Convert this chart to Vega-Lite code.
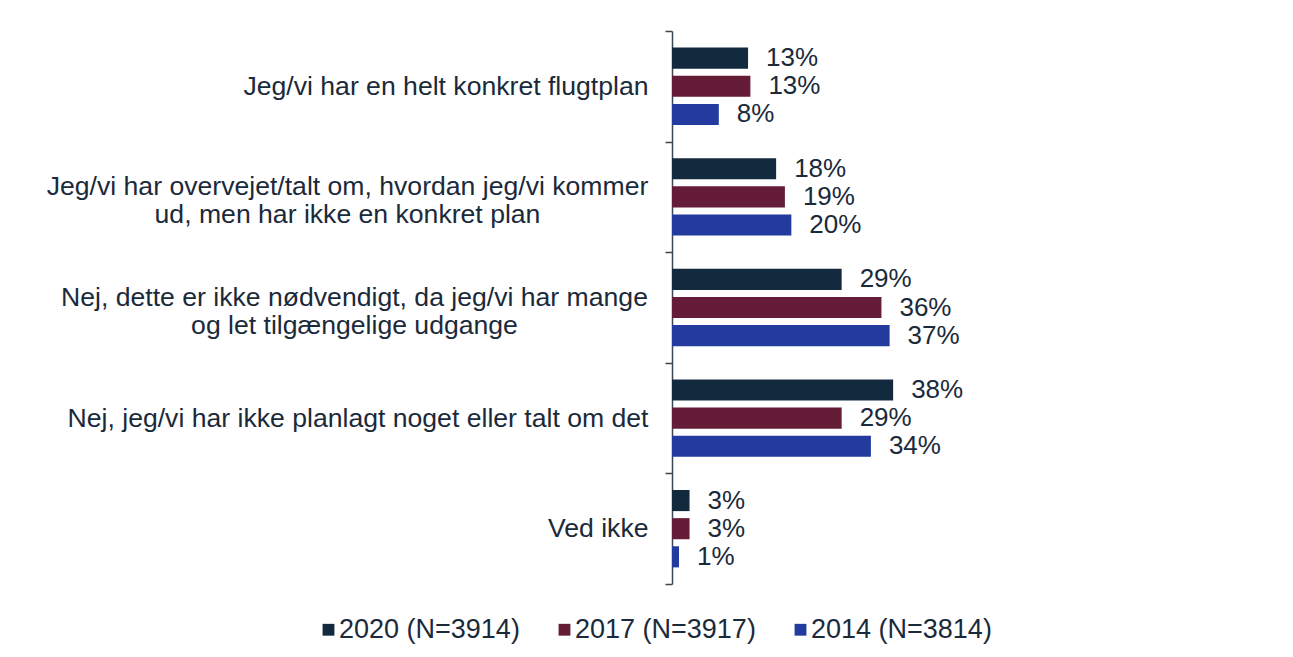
{
  "$schema": "https://vega.github.io/schema/vega-lite/v6.json",
  "autosize": {"type": "none"},
  "padding": {"left": 672, "top": 31, "right": 270, "bottom": 73},
  "width": 351,
  "height": 553,
  "background": "white",
  "config": {
    "view": {"stroke": null},
    "font": "Liberation Sans",
    "text": {"font": "Liberation Sans"}
  },
  "data": {
    "values": [
      {"kategori": "Jeg/vi har en helt konkret flugtplan", "serie": "2020 (N=3914)", "andel": 0.13},
      {"kategori": "Jeg/vi har en helt konkret flugtplan", "serie": "2017 (N=3917)", "andel": 0.134},
      {"kategori": "Jeg/vi har en helt konkret flugtplan", "serie": "2014 (N=3814)", "andel": 0.08},
      {"kategori": "Jeg/vi har overvejet/talt om, hvordan jeg/vi kommer ud, men har ikke en konkret plan", "serie": "2020 (N=3914)", "andel": 0.178},
      {"kategori": "Jeg/vi har overvejet/talt om, hvordan jeg/vi kommer ud, men har ikke en konkret plan", "serie": "2017 (N=3917)", "andel": 0.193},
      {"kategori": "Jeg/vi har overvejet/talt om, hvordan jeg/vi kommer ud, men har ikke en konkret plan", "serie": "2014 (N=3814)", "andel": 0.204},
      {"kategori": "Nej, dette er ikke nødvendigt, da jeg/vi har mange og let tilgængelige udgange", "serie": "2020 (N=3914)", "andel": 0.29},
      {"kategori": "Nej, dette er ikke nødvendigt, da jeg/vi har mange og let tilgængelige udgange", "serie": "2017 (N=3917)", "andel": 0.358},
      {"kategori": "Nej, dette er ikke nødvendigt, da jeg/vi har mange og let tilgængelige udgange", "serie": "2014 (N=3814)", "andel": 0.372},
      {"kategori": "Nej, jeg/vi har ikke planlagt noget eller talt om det", "serie": "2020 (N=3914)", "andel": 0.378},
      {"kategori": "Nej, jeg/vi har ikke planlagt noget eller talt om det", "serie": "2017 (N=3917)", "andel": 0.29},
      {"kategori": "Nej, jeg/vi har ikke planlagt noget eller talt om det", "serie": "2014 (N=3814)", "andel": 0.34},
      {"kategori": "Ved ikke", "serie": "2020 (N=3914)", "andel": 0.03},
      {"kategori": "Ved ikke", "serie": "2017 (N=3917)", "andel": 0.03},
      {"kategori": "Ved ikke", "serie": "2014 (N=3814)", "andel": 0.012}
    ]
  },
  "encoding": {
    "y": {
      "field": "kategori",
      "type": "nominal",
      "sort": null,
      "scale": {"paddingInner": 0, "paddingOuter": 0},
      "axis": {
        "title": null,
        "domainColor": "#3b4856",
        "domainWidth": 1.5,
        "tickColor": "#3b4856",
        "tickWidth": 1.5,
        "tickSize": 7,
        "tickBand": "extent",
        "labelFont": "Liberation Sans",
        "labelFontSize": 26.6,
        "labelColor": "#1b2a3a",
        "labelLimit": 800,
        "labelLineHeight": 27.5,
        "labelAlign": {
          "condition": {"test": "datum.value == 'Jeg/vi har overvejet/talt om, hvordan jeg/vi kommer ud, men har ikke en konkret plan' || datum.value == 'Nej, dette er ikke nødvendigt, da jeg/vi har mange og let tilgængelige udgange'", "value": "center"},
          "value": "right"
        },
        "labelOffset": {
          "condition": {"test": "datum.value == 'Jeg/vi har overvejet/talt om, hvordan jeg/vi kommer ud, men har ikke en konkret plan' || datum.value == 'Nej, dette er ikke nødvendigt, da jeg/vi har mange og let tilgængelige udgange'", "value": -10},
          "value": 0
        },
        "labelPadding": {
          "condition": [
            {"test": "datum.value == 'Jeg/vi har overvejet/talt om, hvordan jeg/vi kommer ud, men har ikke en konkret plan'", "value": 318},
            {"test": "datum.value == 'Nej, dette er ikke nødvendigt, da jeg/vi har mange og let tilgængelige udgange'", "value": 311}
          ],
          "value": 17
        },
        "labelExpr": "datum.value == 'Jeg/vi har overvejet/talt om, hvordan jeg/vi kommer ud, men har ikke en konkret plan' ? ['Jeg/vi har overvejet/talt om, hvordan jeg/vi kommer', 'ud, men har ikke en konkret plan'] : datum.value == 'Nej, dette er ikke nødvendigt, da jeg/vi har mange og let tilgængelige udgange' ? ['Nej, dette er ikke nødvendigt, da jeg/vi har mange', 'og let tilgængelige udgange'] : datum.label"
      }
    },
    "yOffset": {
      "field": "serie",
      "type": "nominal",
      "sort": null,
      "scale": {"paddingInner": 0.25, "paddingOuter": 0.59}
    },
    "x": {
      "field": "andel",
      "type": "quantitative",
      "scale": {"domain": [0, 0.6], "nice": false},
      "axis": null
    }
  },
  "layer": [
    {
      "mark": {"type": "bar"},
      "encoding": {
        "color": {
          "field": "serie",
          "type": "nominal",
          "sort": null,
          "scale": {
            "domain": ["2020 (N=3914)", "2017 (N=3917)", "2014 (N=3814)"],
            "range": ["#13293d", "#641c37", "#233b9e"]
          },
          "legend": {
            "title": null,
            "orient": "none",
            "direction": "horizontal",
            "legendX": -357,
            "legendY": 585,
            "padding": 0,
            "symbolType": "square",
            "symbolSize": 140,
            "symbolStrokeWidth": 0,
            "symbolOpacity": 1,
            "labelFont": "Liberation Sans",
            "labelFontSize": 27,
            "labelColor": "#1b2a3a",
            "labelOffset": -3,
            "labelLimit": 400,
            "columnPadding": 31
          }
        }
      }
    },
    {
      "mark": {
        "type": "text",
        "align": "left",
        "baseline": "middle",
        "dx": 18,
        "font": "Liberation Sans",
        "fontSize": 26,
        "color": "#1b2a3a"
      },
      "encoding": {
        "text": {"field": "andel", "type": "quantitative", "format": ".0%"}
      }
    }
  ]
}
